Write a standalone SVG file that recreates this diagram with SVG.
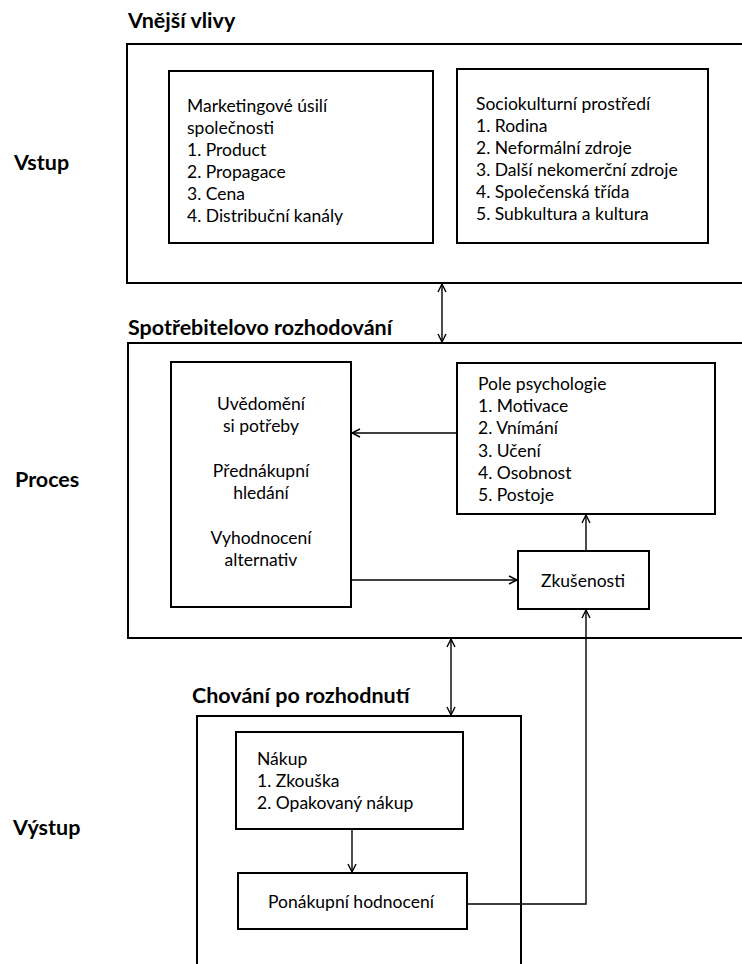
<svg xmlns="http://www.w3.org/2000/svg" width="742" height="964" viewBox="0 0 742 964">
<defs>
<marker id="ah" markerUnits="userSpaceOnUse" markerWidth="12" markerHeight="12" refX="9" refY="5" orient="auto-start-reverse" viewBox="0 0 12 10">
<path d="M1,1 L9,5 L1,9" fill="none" stroke="#000" stroke-width="1.4"/>
</marker>
<style>
.bg{fill:#fff}
.outer{fill:none;stroke:#000;stroke-width:2}
.box{fill:#fff;stroke:#000;stroke-width:2}
.h{font-family:Lato,"Liberation Sans",sans-serif;font-weight:bold;font-size:21.5px;fill:#000}
.t{font-family:Lato,"Liberation Sans",sans-serif;font-size:17.5px;fill:#000}
.c{text-anchor:middle}
.con{fill:none;stroke:#000;stroke-width:1.4}
</style>
</defs>
<rect class="bg" x="0" y="0" width="742" height="964"/>

<g id="labels">
<text class="h" x="14" y="170">Vstup</text>
<text class="h" x="15" y="487">Proces</text>
<text class="h" x="13" y="835">Výstup</text>
</g>

<g id="vnejsi-vlivy">
<text class="h" x="128" y="28">Vnější vlivy</text>
<rect class="outer" x="127" y="44" width="640" height="239"/>
</g>

<g id="marketing">
<rect class="box" x="169" y="71" width="264" height="172"/>
<text class="t" x="187" y="112">Marketingové úsilí</text>
<text class="t" x="187" y="134">společnosti</text>
<text class="t" x="187" y="156">1. Product</text>
<text class="t" x="187" y="178">2. Propagace</text>
<text class="t" x="187" y="200">3. Cena</text>
<text class="t" x="187" y="222">4. Distribuční kanály</text>
</g>

<g id="sociokulturni">
<rect class="box" x="457" y="69" width="251" height="174"/>
<text class="t" x="476" y="110">Sociokulturní prostředí</text>
<text class="t" x="476" y="132">1. Rodina</text>
<text class="t" x="476" y="154">2. Neformální zdroje</text>
<text class="t" x="476" y="176">3. Další nekomerční zdroje</text>
<text class="t" x="476" y="198">4. Společenská třída</text>
<text class="t" x="476" y="220">5. Subkultura a kultura</text>
</g>

<g id="rozhodovani">
<text class="h" x="128" y="335">Spotřebitelovo rozhodování</text>
<rect class="outer" x="128" y="343" width="640" height="295"/>
</g>

<g id="faze">
<rect class="box" x="171" y="362" width="180" height="245"/>
<text class="t c" x="261" y="410">Uvědomění</text>
<text class="t c" x="261" y="432">si potřeby</text>
<text class="t c" x="261" y="477">Přednákupní</text>
<text class="t c" x="261" y="499">hledání</text>
<text class="t c" x="261" y="544">Vyhodnocení</text>
<text class="t c" x="261" y="566">alternativ</text>
</g>

<g id="psychologie">
<rect class="box" x="457" y="363" width="258" height="151"/>
<text class="t" x="478" y="390">Pole psychologie</text>
<text class="t" x="478" y="412">1. Motivace</text>
<text class="t" x="478" y="434">2. Vnímání</text>
<text class="t" x="478" y="457">3. Učení</text>
<text class="t" x="478" y="479">4. Osobnost</text>
<text class="t" x="478" y="501">5. Postoje</text>
</g>

<g id="zkusenosti">
<rect class="box" x="518" y="551" width="131" height="58"/>
<text class="t c" x="583" y="587">Zkušenosti</text>
</g>

<g id="chovani">
<text class="h" x="192" y="703">Chování po rozhodnutí</text>
<rect class="outer" x="197" y="716" width="324" height="270"/>
</g>

<g id="nakup">
<rect class="box" x="236" y="732" width="227" height="97"/>
<text class="t" x="257" y="765">Nákup</text>
<text class="t" x="257" y="787">1. Zkouška</text>
<text class="t" x="257" y="809">2. Opakovaný nákup</text>
</g>

<g id="ponakupni">
<rect class="box" x="238" y="873" width="229" height="56"/>
<text class="t c" x="351" y="908">Ponákupní hodnocení</text>
</g>

<g id="connectors">
<line class="con" x1="442" y1="284" x2="442" y2="342" marker-start="url(#ah)" marker-end="url(#ah)"/>
<line class="con" x1="451" y1="639" x2="451" y2="715" marker-start="url(#ah)" marker-end="url(#ah)"/>
<line class="con" x1="457" y1="433" x2="352" y2="433" marker-end="url(#ah)"/>
<line class="con" x1="351" y1="580" x2="517" y2="580" marker-end="url(#ah)"/>
<line class="con" x1="586" y1="551" x2="586" y2="515" marker-end="url(#ah)"/>
<line class="con" x1="352" y1="829" x2="352" y2="872" marker-end="url(#ah)"/>
<polyline class="con" points="467,904 586,904 586,610" marker-end="url(#ah)"/>
</g>
</svg>
